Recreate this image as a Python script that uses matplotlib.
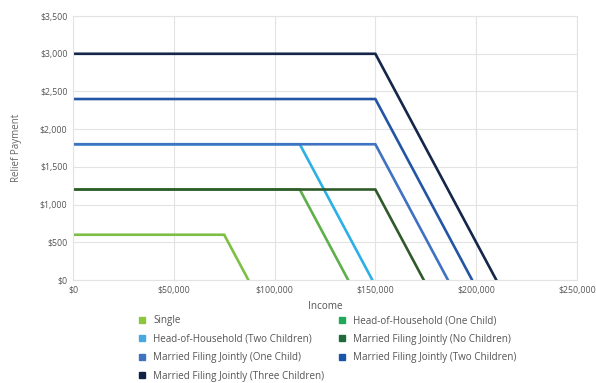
import matplotlib.pyplot as plt
from matplotlib.lines import Line2D
from matplotlib.ticker import FuncFormatter

plt.rcParams['font.family'] = ['Open Sans', 'DejaVu Sans']

names = ['Single', 'Head-of-Household (One Child)', 'Head-of-Household (Two Children)',
         'Married Filing Jointly (No Children)', 'Married Filing Jointly (One Child)',
         'Married Filing Jointly (Two Children)', 'Married Filing Jointly (Three Children)']
max_pay = [600, 1200, 1800, 1200, 1800, 2400, 3000]
phase_start = [75000, 112500, 112500, 150000, 150000, 150000, 150000]
phase_end = [87000, 136500, 148500, 174000, 186000, 198000, 210000]
colors = ['#7dbf45', '#5db04a', '#2bb0e6', '#2f5a2a', '#3f72c0', '#2455a4', '#14264a']
legend_colors = ['#8cc63e', '#1fa85a', '#4aa8e0', '#1f6b3a', '#3f72c0', '#1a56a8', '#0f2244']

fig = plt.figure(figsize=(5.96, 3.83), dpi=100)
ax = fig.add_axes([0.1225, 0.269, 0.8455, 0.689])

for i in range(len(names)):
    ax.plot([0, phase_start[i], phase_end[i]], [max_pay[i], max_pay[i], 0],
            color=colors[i], lw=1.9, solid_joinstyle='miter')

ax.set_xlim(0, 250000)
ax.set_ylim(0, 3500)
ax.set_xticks(range(0, 250001, 50000))
ax.set_yticks(range(0, 3501, 500))
ax.xaxis.set_major_formatter(FuncFormatter(lambda v, p: '${:,.0f}'.format(v)))
ax.yaxis.set_major_formatter(FuncFormatter(lambda v, p: '${:,.0f}'.format(v)))
ax.grid(True, color='#e3e3e3', lw=0.8)
ax.set_axisbelow(True)
for s in ax.spines.values():
    s.set_color('#e3e3e3')
ax.tick_params(length=0, labelsize=6.3, colors='#555555', pad=4)
ax.set_xlabel('Income', fontsize=7.2, color='#555555', labelpad=5)
ax.set_ylabel('Relief Payment', fontsize=7, color='#666666', labelpad=13)

order = [0, 2, 4, 6, 1, 3, 5]
handles = [Line2D([], [], marker='s', ls='none', color=legend_colors[i], markersize=4.5) for i in order]
labels = [names[i] for i in order]
fig.legend(handles, labels, ncol=2, loc='upper left', bbox_to_anchor=(0.222, 0.19),
           frameon=False, fontsize=7.1, labelcolor='#555555', handletextpad=0.6,
           columnspacing=1.3, labelspacing=0.76, borderpad=0, handlelength=1)

plt.savefig('out.png')
